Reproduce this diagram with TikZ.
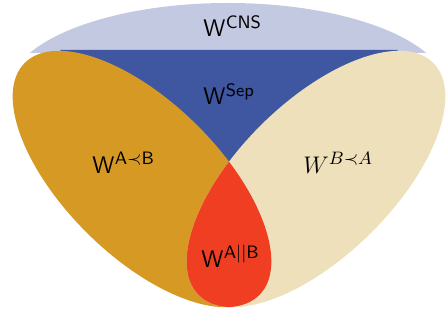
\documentclass[tikz,border=0pt]{standalone}
\begin{document}
\definecolor{cnsfill}{RGB}{196,201,226}
\definecolor{sepfill}{RGB}{63,86,161}
\definecolor{abfill}{RGB}{214,154,36}
\definecolor{bafill}{RGB}{237,224,187}
\definecolor{parfill}{RGB}{240,62,34}
\begin{tikzpicture}[x=0.5pt,y=-0.5pt,
  lbl/.style={inner sep=0pt, anchor=base west, font=\fontsize{13}{15}\selectfont},
  % tilted ellipse of the A-before-B region; the B-before-A region is its mirror image
  abshape/.style={insert path={(142,179) ellipse [x radius=165, y radius=77, rotate=-44.6]}},
  mirror/.style={xshift=229pt, xscale=-1}]
\useasboundingbox (0,0) rectangle (448,320);

% causally non-separable cap
\begin{scope}
  \clip (0,0) rectangle (448,53);
  \fill[cnsfill] (228,90) ellipse [x radius=219, y radius=87];
\end{scope}

% causally separable part
\fill[sepfill] (60,50) -- (398,50) -- (229,210) -- cycle;

% the two fixed-order regions
\fill[abfill, abshape];
\begin{scope}[mirror]
  \fill[bafill, abshape];
\end{scope}

% their overlap
\begin{scope}
  \path[clip, abshape];
  \begin{scope}[mirror]
    \fill[parfill, abshape];
  \end{scope}
\end{scope}

\node[lbl] (cns) at (203,37)  {$\mathsf{W}^{\mathsf{CNS}}$};
\node[lbl] (sep) at (203,105) {$\mathsf{W}^{\mathsf{Sep}}$};
\node[lbl] (ab)  at (92,173)  {$\mathsf{W}^{\mathsf{A}\prec\mathsf{B}}$};
\node[lbl] (ba)  at (303,173) {$W^{B\prec A}$};
\node[lbl] (par) at (201,267) {$\mathsf{W}^{\mathsf{A}||\mathsf{B}}$};
\end{tikzpicture}
\end{document}
